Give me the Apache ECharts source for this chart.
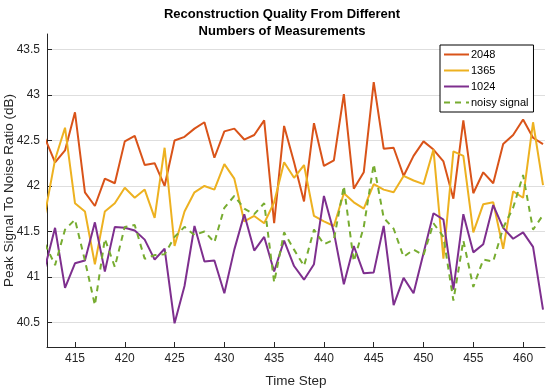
<!DOCTYPE html>
<html>
<head>
<meta charset="utf-8">
<script src="https://cdn.jsdelivr.net/npm/echarts@6/dist/echarts.min.js"></script>
<style>
html,body{margin:0;padding:0;background:#fff;}
#chart{width:552px;height:390px;}
</style>
</head>
<body>
<div id="chart"></div>
<script>
const timeSteps = [412,413,414,415,416,417,418,419,420,421,422,423,424,425,426,427,428,429,430,431,432,433,434,435,436,437,438,439,440,441,442,443,444,445,446,447,448,449,450,451,452,453,454,455,456,457,458,459,460,461,462];

const s2048 = [42.52,42.26,42.39,42.81,41.93,41.78,42.08,42.03,42.49,42.55,42.23,42.25,42.00,42.50,42.54,42.63,42.70,42.31,42.60,42.63,42.51,42.56,42.72,41.59,42.66,42.26,41.83,42.69,42.22,42.28,43.01,41.97,42.15,43.14,42.41,42.42,42.11,42.33,42.49,42.40,42.27,41.86,42.72,41.92,42.15,42.03,42.46,42.56,42.73,42.53,42.46];

const s1365 = [41.70,42.29,42.64,41.81,41.72,41.14,41.72,41.81,41.98,41.87,41.96,41.65,42.42,41.34,41.72,41.93,42.00,41.96,42.24,42.08,41.61,41.67,41.59,41.82,42.26,42.09,42.23,41.67,41.61,41.56,41.92,41.82,41.75,42.02,41.96,41.93,42.11,42.06,42.02,42.40,41.20,42.38,42.33,41.49,41.80,41.82,41.31,41.94,41.87,42.70,42.01];

const s1024 = [41.11,41.54,40.88,41.15,41.18,41.60,41.06,41.55,41.54,41.51,41.41,41.19,41.31,40.49,40.90,41.56,41.17,41.18,40.82,41.30,41.69,41.29,41.44,41.06,41.40,41.12,40.97,41.14,41.89,41.49,40.92,41.34,41.04,41.05,41.56,40.69,40.99,40.82,41.26,41.70,41.63,40.86,41.69,41.27,41.36,41.79,41.54,41.42,41.49,41.33,40.64];

const sNoisy = [41.36,41.13,41.52,41.63,41.18,40.69,41.42,41.11,41.55,41.57,41.20,41.24,41.25,41.44,41.55,41.46,41.50,41.38,41.76,41.89,41.75,41.69,41.81,40.94,41.49,41.30,41.12,41.52,41.36,41.41,42.00,41.17,41.55,42.24,41.65,41.53,41.22,41.30,41.24,41.59,41.44,40.74,41.40,40.89,41.19,41.17,41.54,41.76,42.12,41.52,41.68];

const xTicks = [415,420,425,430,435,440,445,450,455,460];
const yTicks = [40.5,41,41.5,42,42.5,43,43.5];

const seriesNames = ['2048','1365','1024','noisy signal'];
const colors = ['#D95319','#EDB120','#7E2F8E','#77AC30'];

function pairs(vals){ return timeSteps.map((t,i)=>[t, vals[i]]); }

const axisColor = '#262626';
const font = 'Liberation Sans, Arial, Helvetica, sans-serif';

const chart = echarts.init(document.getElementById('chart'), null, {renderer:'canvas'});
chart.setOption({
  animation:false,
  backgroundColor:'#fff',
  textStyle:{fontFamily:font},
  title:{
    text:'Reconstruction Quality From Different\nNumbers of Measurements',
    left:277, top:1, textAlign:'center',
    textStyle:{fontSize:13, fontWeight:'bold', color:'#000', lineHeight:17, fontFamily:font}
  },
  grid:{left:47, right:7, top:34, bottom:43, containLabel:false, outerBoundsMode:'none'},
  legend:{
    orient:'vertical', left:440, top:45,
    itemWidth:25, itemHeight:10, itemGap:5,
    padding:[4,5,4,3],
    borderColor:'#000', borderWidth:1, backgroundColor:'#fff',
    itemStyle:{opacity:0},
    textStyle:{fontSize:11, color:'#000', padding:[0,0,0,-3], fontFamily:font},
    data:seriesNames
  },
  xAxis:{
    type:'value', min:412.19, max:462.2,
    name:'Time Step', nameLocation:'middle', nameGap:27, nameMoveOverlap:false,
    nameTextStyle:{fontSize:13.5, color:axisColor, fontFamily:font},
    axisLine:{show:true, onZero:false, lineStyle:{color:axisColor, width:1}},
    axisTick:{show:true, inside:true, length:5, customValues:xTicks, lineStyle:{color:axisColor}},
    axisLabel:{customValues:xTicks, fontSize:12, color:axisColor, margin:6, fontFamily:font},
    splitLine:{show:false}
  },
  yAxis:{
    type:'value', min:40.23, max:43.67,
    name:'Peak Signal To Noise Ratio (dB)', nameLocation:'middle', nameGap:31, nameMoveOverlap:false,
    nameTextStyle:{fontSize:13.5, color:axisColor, fontFamily:font},
    axisLine:{show:true, onZero:false, lineStyle:{color:axisColor, width:1}},
    axisTick:{show:true, inside:true, length:5, customValues:yTicks, lineStyle:{color:axisColor}},
    axisLabel:{customValues:yTicks, fontSize:12, color:axisColor, margin:7, fontFamily:font},
    splitLine:{show:true, lineStyle:{color:'#dedede', width:1}}
  },
  series:[
    {name:seriesNames[0], type:'line', data:pairs(s2048), symbol:'none', color:colors[0], lineStyle:{width:2, color:colors[0]}},
    {name:seriesNames[1], type:'line', data:pairs(s1365), symbol:'none', color:colors[1], lineStyle:{width:2, color:colors[1]}},
    {name:seriesNames[2], type:'line', data:pairs(s1024), symbol:'none', color:colors[2], lineStyle:{width:2, color:colors[2]}},
    {name:seriesNames[3], type:'line', data:pairs(sNoisy), symbol:'none', color:colors[3], lineStyle:{width:2, color:colors[3], type:[6,5]}}
  ]
});
</script>
</body>
</html>
